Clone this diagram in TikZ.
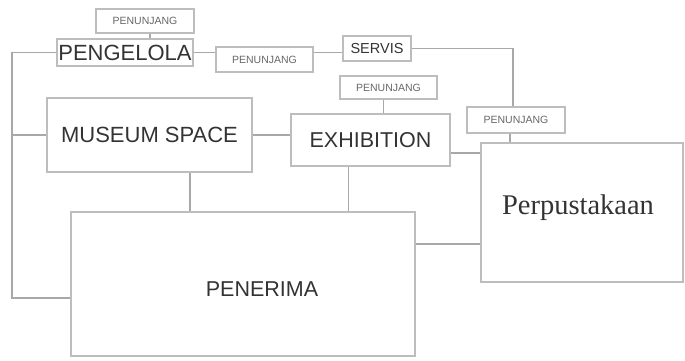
\documentclass[tikz,border=0pt]{standalone}
\usepackage{fontspec}
\setmainfont{Liberation Sans}
\newfontfamily\serifp{Liberation Serif}
\definecolor{boxline}{HTML}{BDBDBD}
\definecolor{conline}{HTML}{A8A8A8}
\definecolor{txtdark}{HTML}{333333}
\definecolor{txtlight}{HTML}{666666}
\begin{document}
\begin{tikzpicture}[x=1pt,y=-1pt,
  box/.style={draw=boxline,line width=1.1pt,rectangle,inner sep=0pt,text=txtdark},
  smallbox/.style={box,text=txtlight,font=\fontsize{10.5}{11}\selectfont},
  conn/.style={draw=conline,line width=1.1pt}]
\useasboundingbox (0,0) rectangle (685,361);
% boxes
\node[smallbox,minimum width=98pt,minimum height=24pt] (pj1) at (145,21) {PENUNJANG};
\node[box,minimum width=136pt,minimum height=27pt,font=\fontsize{22}{23}\selectfont] (peng) at (125,52.5) {PENGELOLA};
\node[smallbox,minimum width=97pt,minimum height=25pt] (pj2) at (264.5,59.5) {PENUNJANG};
\node[box,minimum width=68pt,minimum height=25pt,font=\fontsize{14.5}{15}\selectfont] (serv) at (377,48.5) {SERVIS};
\node[smallbox,minimum width=97pt,minimum height=23pt] (pj3) at (388.5,87.5) {PENUNJANG};
\node[smallbox,minimum width=98pt,minimum height=26pt] (pj4) at (516,120) {PENUNJANG};
\node[box,minimum width=205pt,minimum height=74pt,font=\fontsize{22}{23}\selectfont] (mus) at (149.5,135) {MUSEUM SPACE};
\node[box,minimum width=159pt,minimum height=52pt,font=\fontsize{21.5}{22}\selectfont] (exh) at (370.5,140) {EXHIBITION};
\node[box,minimum width=202pt,minimum height=139pt,
  label={[text=txtdark,font=\serifp\fontsize{28.5}{29}\selectfont,xshift=-4pt,yshift=5pt]center:Perpustakaan}] (perp) at (582,212.5) {};
\node[box,minimum width=344pt,minimum height=144pt,
  label={[text=txtdark,font=\fontsize{21.5}{22}\selectfont,xshift=19pt,yshift=-5pt]center:PENERIMA}] (pen) at (243,284) {};
% left spine
\coordinate (L1) at (12,52.5);
\coordinate (L2) at (12,298);
% connectors
\draw[conn] ([xshift=5pt]pj1.south) -- ([xshift=5pt]pj1.south |- peng.north);
\draw[conn] (peng.west) -- (L1) -- (L2) -- (L2 -| pen.west);
\draw[conn] (mus.west) -- (mus.west -| L1);
\draw[conn] (peng.east) -- (peng.east -| pj2.west);
\draw[conn] (pj2.east |- peng.east) -- (serv.west |- peng.east);
\draw[conn] (serv.east) -| ([xshift=-3pt]pj4.north);
\draw[conn] ([xshift=-5pt]pj3.south) -- ([xshift=-5pt]pj3.south |- exh.north);
\draw[conn] ([xshift=-6pt]pj4.south) -- ([xshift=-6pt]pj4.south |- perp.north);
\draw[conn] (mus.east) -- (mus.east -| exh.west);
\draw[conn] ([yshift=-13pt]exh.east) -- ([yshift=-13pt]exh.east -| perp.west);
\draw[conn] ([xshift=-22pt]exh.south) -- ([xshift=-22pt]exh.south |- pen.north);
\draw[conn] ([xshift=40.5pt]mus.south) -- ([xshift=40.5pt]mus.south |- pen.north);
\draw[conn] ([yshift=40pt]pen.east) -- ([yshift=40pt]pen.east -| perp.west);
\end{tikzpicture}
\end{document}
